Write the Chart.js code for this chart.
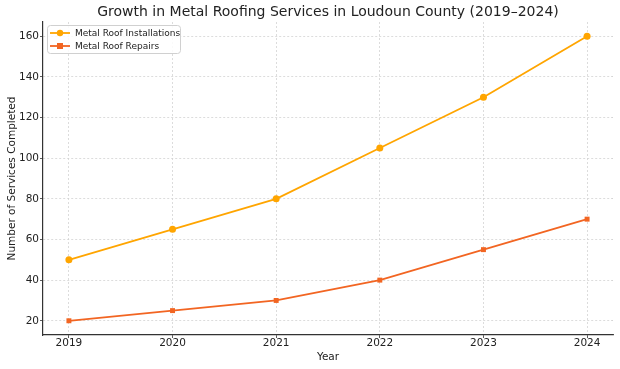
<!DOCTYPE html>
<html>
<head>
<meta charset="utf-8">
<script src="https://cdn.jsdelivr.net/npm/chart.js@4"></script>
<style>
  html, body { margin: 0; padding: 0; background: #fff; }
  #wrap { width: 620px; height: 369px; }
</style>
</head>
<body>
<div id="wrap"><canvas id="chart"></canvas></div>
<script>
// ── Data ──
const years         = [2019, 2020, 2021, 2022, 2023, 2024];
const installations = [50, 65, 80, 105, 130, 160];
const repairs       = [20, 25, 30, 40, 55, 70];
const yTicks        = [20, 40, 60, 80, 100, 120, 140, 160];

const titleText  = 'Growth in Metal Roofing Services in Loudoun County (2019–2024)';
const colInstall = '#FFA500';
const colRepair  = '#F26522';
const font = "'DejaVu Sans', sans-serif";

// title centred over the plot area (not the whole canvas)
const axesTitle = {
  id: 'axesTitle',
  afterDraw(chart) {
    const { ctx, chartArea } = chart;
    ctx.save();
    ctx.font = '14px ' + font;
    ctx.fillStyle = '#222';
    ctx.textAlign = 'center';
    ctx.textBaseline = 'middle';
    ctx.fillText(titleText, (chartArea.left + chartArea.right) / 2, 12.5);
    ctx.restore();
  }
};

// legend drawn inside the plot, top-left, with a box
const insideLegend = {
  id: 'insideLegend',
  afterDraw(chart) {
    const { ctx, chartArea } = chart;
    const x0 = chartArea.left + 4, y0 = chartArea.top + 3;
    const w = 133, h = 28;
    ctx.save();
    ctx.fillStyle = 'rgba(255,255,255,0.85)';
    ctx.strokeStyle = '#d0d0d0';
    ctx.lineWidth = 1;
    ctx.beginPath();
    ctx.roundRect(x0 + 0.5, y0 + 0.5, w, h, 3);
    ctx.fill(); ctx.stroke();
    ctx.font = '9px ' + font;
    ctx.textBaseline = 'middle';
    chart.data.datasets.forEach((ds, i) => {
      const cy = y0 + 8 + i * 13;
      ctx.strokeStyle = ds.borderColor;
      ctx.lineWidth = 1.8;
      ctx.beginPath(); ctx.moveTo(x0 + 3, cy); ctx.lineTo(x0 + 23, cy); ctx.stroke();
      ctx.fillStyle = ds.borderColor;
      if (ds.pointStyle === 'rect') ctx.fillRect(x0 + 10, cy - 3, 6, 6);
      else { ctx.beginPath(); ctx.arc(x0 + 13, cy, 3.2, 0, Math.PI * 2); ctx.fill(); }
      ctx.fillStyle = '#222';
      ctx.fillText(ds.label, x0 + 28, cy + 0.5);
    });
    ctx.restore();
  }
};

new Chart(document.getElementById('chart'), {
  type: 'line',
  data: {
    datasets: [
      { label: 'Metal Roof Installations', data: years.map((y, i) => ({ x: y, y: installations[i] })),
        borderColor: colInstall, backgroundColor: colInstall, borderWidth: 1.8,
        pointStyle: 'circle', pointRadius: 3.5, pointBorderWidth: 0, tension: 0 },
      { label: 'Metal Roof Repairs', data: years.map((y, i) => ({ x: y, y: repairs[i] })),
        borderColor: colRepair, backgroundColor: colRepair, borderWidth: 1.8,
        pointStyle: 'rect', pointRadius: 3.5, pointBorderWidth: 0, tension: 0 },
    ]
  },
  options: {
    responsive: true, maintainAspectRatio: false, animation: false,
    layout: { padding: { left: 0, right: 7, top: 22, bottom: 0 } },
    plugins: {
      legend: { display: false },
      tooltip: { enabled: false },
      title: { display: false },
    },
    scales: {
      x: {
        type: 'linear', min: 2018.75, max: 2024.25,
        afterBuildTicks: s => { s.ticks = years.map(v => ({ value: v })); },
        afterFit: s => { s.height = 34; },
        ticks: { color: '#222', font: { family: font, size: 10.5 }, padding: -1, callback: v => String(v) },
        grid: { color: '#d4d4d4', lineWidth: 0.8, drawTicks: true, tickLength: 3, tickColor: '#333' },
        border: { display: true, color: '#333', width: 1.2, dash: [2, 2] },
        title: { display: true, text: 'Year', color: '#222', font: { family: font, size: 10.5 }, padding: { top: 0, bottom: 5.5 } },
      },
      y: {
        min: 13, max: 167,
        afterBuildTicks: s => { s.ticks = yTicks.map(v => ({ value: v })); },
        afterFit: s => { s.width = 43; },
        ticks: { color: '#222', font: { family: font, size: 10.5 }, padding: 1 },
        grid: { color: '#d4d4d4', lineWidth: 0.8, tickLength: 3, tickColor: '#333' },
        border: { display: true, color: '#333', width: 1.2, dash: [2, 2] },
        title: { display: true, text: 'Number of Services Completed', color: '#222', font: { family: font, size: 10.5 }, padding: { top: 6, bottom: 0 } },
      }
    }
  },
  plugins: [axesTitle, insideLegend]
});
</script>
</body>
</html>
